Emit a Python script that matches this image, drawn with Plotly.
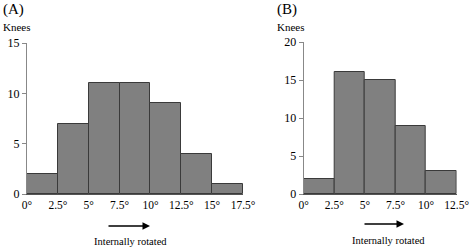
import plotly.graph_objects as go

edges_a = [0, 2.5, 5, 7.5, 10, 12.5, 15, 17.5]
counts_a = [2, 7, 11, 11, 9, 4, 1]
edges_b = [0, 2.5, 5, 7.5, 10, 12.5]
counts_b = [2, 16, 15, 9, 3]
tick_a = ["0°", "2.5°", "5°", "7.5°", "10°", "12.5°", "15°", "17.5°"]
tick_b = ["0°", "2.5°", "5°", "7.5°", "10°", "12.5°"]
yticks_a = [0, 5, 10, 15]
yticks_b = [0, 5, 10, 15, 20]

W, H = 472, 248
FONT = "Liberation Serif, Times New Roman, serif"

def px(v):
    return v / W

def py(v):
    return 1 - v / H

fig = go.Figure()

def centers(edges):
    return [(edges[i] + edges[i + 1]) / 2 for i in range(len(edges) - 1)]

def widths(edges):
    return [edges[i + 1] - edges[i] for i in range(len(edges) - 1)]

bar_style = dict(marker=dict(color="#808080", line=dict(color="#3a3a3a", width=1)), showlegend=False, hoverinfo="skip")
fig.add_trace(go.Bar(x=centers(edges_a), y=counts_a, width=widths(edges_a), xaxis="x", yaxis="y", **bar_style))
fig.add_trace(go.Bar(x=centers(edges_b), y=counts_b, width=widths(edges_b), xaxis="x2", yaxis="y2", **bar_style))

ax_common = dict(showgrid=False, zeroline=False, showline=True, linecolor="#555555", linewidth=1,
                 ticks="", automargin=False, tickfont=dict(family=FONT, size=11.5, color="black"), fixedrange=True)
ay_common = dict(showgrid=False, zeroline=False, showline=True, linecolor="#888888", linewidth=1,
                 ticks="outside", ticklen=4, tickcolor="#888888", automargin=False,
                 tickfont=dict(family=FONT, size=12, color="black"), fixedrange=True)

fig.update_layout(
    width=W, height=H, margin=dict(l=0, r=0, t=0, b=0, autoexpand=False),
    paper_bgcolor="white", plot_bgcolor="white", bargap=0,
    font=dict(family=FONT),
    xaxis=dict(domain=[px(27), px(243)], range=[edges_a[0], edges_a[-1]], anchor="y",
               tickvals=edges_a, ticktext=tick_a, **ax_common),
    yaxis=dict(domain=[py(194), py(43)], range=[0, 15], anchor="x", tickvals=yticks_a, **ay_common),
    xaxis2=dict(domain=[px(303.7), px(456.7)], range=[edges_b[0], edges_b[-1]], anchor="y2",
                tickvals=edges_b, ticktext=tick_b, **ax_common),
    yaxis2=dict(domain=[py(194), py(42)], range=[0, 20], anchor="x2", tickvals=yticks_b, **ay_common),
)

def text(x, y, s, size, xanchor="left"):
    fig.add_annotation(x=px(x), y=py(y), xref="paper", yref="paper", text=s, showarrow=False,
                       xanchor=xanchor, yanchor="middle", font=dict(family=FONT, size=size, color="black"))

text(1, 10, "(A)", 15)
text(1, 27, "Knees", 11)
text(275, 10, "(B)", 15)
text(275, 27, "Knees", 11)
text(130, 241, "Internally rotated", 10.5, "center")
text(388, 240, "Internally rotated", 10.5, "center")

def arrow(x0, x1, y):
    fig.add_annotation(x=px(x1), y=py(y), xref="paper", yref="paper", ax=x0 - x1, ay=0,
                       axref="pixel", ayref="pixel", text="", showarrow=True,
                       arrowhead=2, arrowsize=1, arrowwidth=1.5, arrowcolor="black")

arrow(107, 150, 226)
arrow(363, 404, 224)

fig.write_html("out.html", config={"displayModeBar": False},
               post_script="document.body.style.margin='0';document.body.style.padding='0';")
